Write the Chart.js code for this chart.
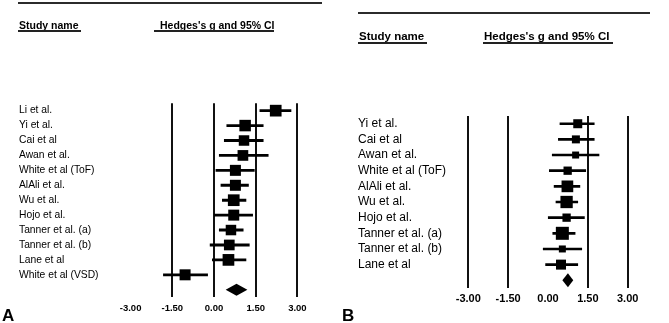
<!DOCTYPE html>
<html><head><meta charset="utf-8">
<script src="https://cdn.jsdelivr.net/npm/chart.js@4.4.1/dist/chart.umd.min.js"></script>
<style>
html,body{margin:0;padding:0;background:#fff;width:669px;height:323px;overflow:hidden;font-family:"Liberation Sans",Arial,sans-serif;}
.box{position:absolute;top:0;height:323px;}
#wa{left:0;width:335px;}
#wb{left:335px;width:334px;}
.rule{position:absolute;background:#2b2b2b;height:2px;}
.hdr{position:absolute;font-weight:bold;color:#000;white-space:nowrap;line-height:1;}
.ul{position:absolute;height:2px;background:#222;}
.panel{position:absolute;font-weight:bold;font-size:17px;line-height:1;color:#000;}
</style></head>
<body>
<div class="box" id="wa"><canvas id="ca" width="335" height="323"></canvas></div>
<div class="box" id="wb"><canvas id="cb" width="334" height="323"></canvas></div>

<div class="rule" style="left:18px;top:2px;width:304px;"></div>
<div class="hdr" style="left:19px;top:20px;font-size:10.5px;">Study name</div>
<div class="ul" style="left:18px;top:30px;width:63px;"></div>
<div class="hdr" style="left:160px;top:20px;font-size:10.5px;">Hedges's g and 95% CI</div>
<div class="ul" style="left:154px;top:30px;width:120px;"></div>
<div class="panel" style="left:2px;top:307px;">A</div>

<div class="rule" style="left:358px;top:12px;width:292px;"></div>
<div class="hdr" style="left:359px;top:30.5px;font-size:11.5px;">Study name</div>
<div class="ul" style="left:358px;top:41.5px;width:69px;"></div>
<div class="hdr" style="left:484px;top:30.5px;font-size:11.5px;">Hedges's g and 95% CI</div>
<div class="ul" style="left:483px;top:41.5px;width:130px;"></div>
<div class="panel" style="left:342px;top:307px;">B</div>

<script>
// ---------- data ----------
const tickValues = [-3, -1.5, 0, 1.5, 3];

// Panel A
const namesA = ["Li et al.", "Yi et al.", "Cai et al", "Awan et al.", "White et al (ToF)", "AlAli et al.",
  "Wu et al.", "Hojo et al.", "Tanner et al. (a)", "Tanner et al. (b)", "Lane et al", "White et al (VSD)"];
const estA = [2.22, 1.12, 1.08, 1.04, 0.77, 0.77, 0.71, 0.71, 0.61, 0.55, 0.52, -1.04];
const lowA = [1.65, 0.46, 0.37, 0.19, 0.07, 0.25, 0.30, 0.01, 0.19, -0.14, -0.06, -1.82];
const highA = [2.77, 1.77, 1.77, 1.95, 1.45, 1.24, 1.15, 1.39, 1.05, 1.27, 1.15, -0.23];
const weightA = [11.7, 11.5, 10.5, 10.7, 11, 11, 11.7, 11, 10.5, 10.7, 11.7, 11];
const summaryA = [0.42, 0.81, 1.20]; // low, estimate, high

// Panel B
const namesB = ["Yi et al.", "Cai et al", "Awan et al.", "White et al (ToF)", "AlAli et al.", "Wu et al.",
  "Hojo et al.", "Tanner et al. (a)", "Tanner et al. (b)", "Lane et al"];
const estB = [1.12, 1.05, 1.04, 0.74, 0.73, 0.70, 0.70, 0.54, 0.54, 0.49];
const lowB = [0.45, 0.39, 0.16, 0.05, 0.23, 0.30, 0.01, 0.18, -0.18, -0.09];
const highB = [1.74, 1.74, 1.92, 1.42, 1.20, 1.12, 1.37, 1.02, 1.27, 1.12];
const weightB = [9, 8, 7, 8.3, 11.7, 12.3, 8.3, 13, 7, 10];
const summaryB = [0.54, 0.75, 0.95];

// ---------- drawing ----------
const FONT = "'Liberation Sans', Arial, sans-serif";

const diamondPlugin = {
  id: 'diamond',
  afterDatasetsDraw(chart, args, opts) {
    const xs = chart.scales.x, ys = chart.scales.y;
    const yc = ys.getPixelForValue(opts.row);
    const xl = xs.getPixelForValue(opts.summary[0]);
    const xm = xs.getPixelForValue(opts.summary[1]);
    const xr = xs.getPixelForValue(opts.summary[2]);
    const ctx = chart.ctx;
    ctx.save();
    ctx.beginPath();
    ctx.moveTo(xl, yc);
    ctx.lineTo(xm, yc - opts.half);
    ctx.lineTo(xr, yc);
    ctx.lineTo(xm, yc + opts.half);
    ctx.closePath();
    ctx.fillStyle = '#000';
    ctx.fill();
    ctx.restore();
  }
};

function makeForest(id, names, est, low, high, weight, summary, L) {
  const labels = names.concat(['']);
  const ci = low.map((l, i) => [l, high[i]]).concat([null]);
  const pts = est.concat([null]);
  const radii = weight.map(w => w / Math.SQRT2).concat([0]);
  return new Chart(document.getElementById(id), {
    type: 'bar',
    data: {
      labels: labels,
      datasets: [
        { type: 'bar', indexAxis: 'y', data: ci, backgroundColor: '#000', borderWidth: 0,
          barThickness: L.ciWidth, borderSkipped: false, order: 2 },
        { type: 'line', indexAxis: 'y', data: pts, showLine: false, pointStyle: 'rect',
          pointRadius: radii, pointHoverRadius: radii, pointBackgroundColor: '#000',
          pointBorderWidth: 0, borderColor: '#000', order: 1, clip: false }
      ]
    },
    options: {
      responsive: false,
      animation: false,
      indexAxis: 'y',
      events: [],
      layout: { padding: { left: L.left, top: L.top, right: L.right, bottom: 0 } },
      plugins: {
        legend: { display: false },
        tooltip: { enabled: false },
        diamond: { row: names.length, summary: summary, half: L.diamondHalf }
      },
      scales: {
        x: {
          type: 'linear', min: -3, max: 3,
          afterBuildTicks: s => { s.ticks = tickValues.map(v => ({ value: v })); },
          ticks: { callback: v => Number(v).toFixed(2), color: '#000', padding: L.tickPad,
                   maxRotation: 0, autoSkip: false,
                   font: { family: FONT, size: L.tickFont, weight: 'bold' } },
          grid: { drawTicks: false, lineWidth: 2,
                  color: c => (c.tick && c.tick.value === L.noLine) ? 'rgba(0,0,0,0)' : '#111' },
          border: { display: false },
          afterFit: s => { s.height = L.xHeight; }
        },
        y: {
          type: 'category',
          grid: { display: false, drawTicks: false },
          border: { display: false },
          ticks: { crossAlign: 'far', color: '#000', autoSkip: false, padding: 0,
                   font: { family: FONT, size: L.nameFont } },
          afterFit: s => { s.width = L.yWidth; }
        }
      }
    },
    plugins: [diamondPlugin]
  });
}

makeForest('ca', namesA, estA, lowA, highA, weightA, summaryA, {
  left: 19, top: 103.2, right: 37.6, yWidth: 111.6, xHeight: 25.8,
  tickPad: 5, tickFont: 9.5, nameFont: 10.3, noLine: -3, ciWidth: 2.2, diamondHalf: 6
});
makeForest('cb', namesB, estB, lowB, highB, weightB, summaryB, {
  left: 23, top: 115.9, right: 41.3, yWidth: 110.3, xHeight: 34.9,
  tickPad: 4.3, tickFont: 11, nameFont: 12, noLine: 0, ciWidth: 2, diamondHalf: 7
});
</script>
</body></html>
